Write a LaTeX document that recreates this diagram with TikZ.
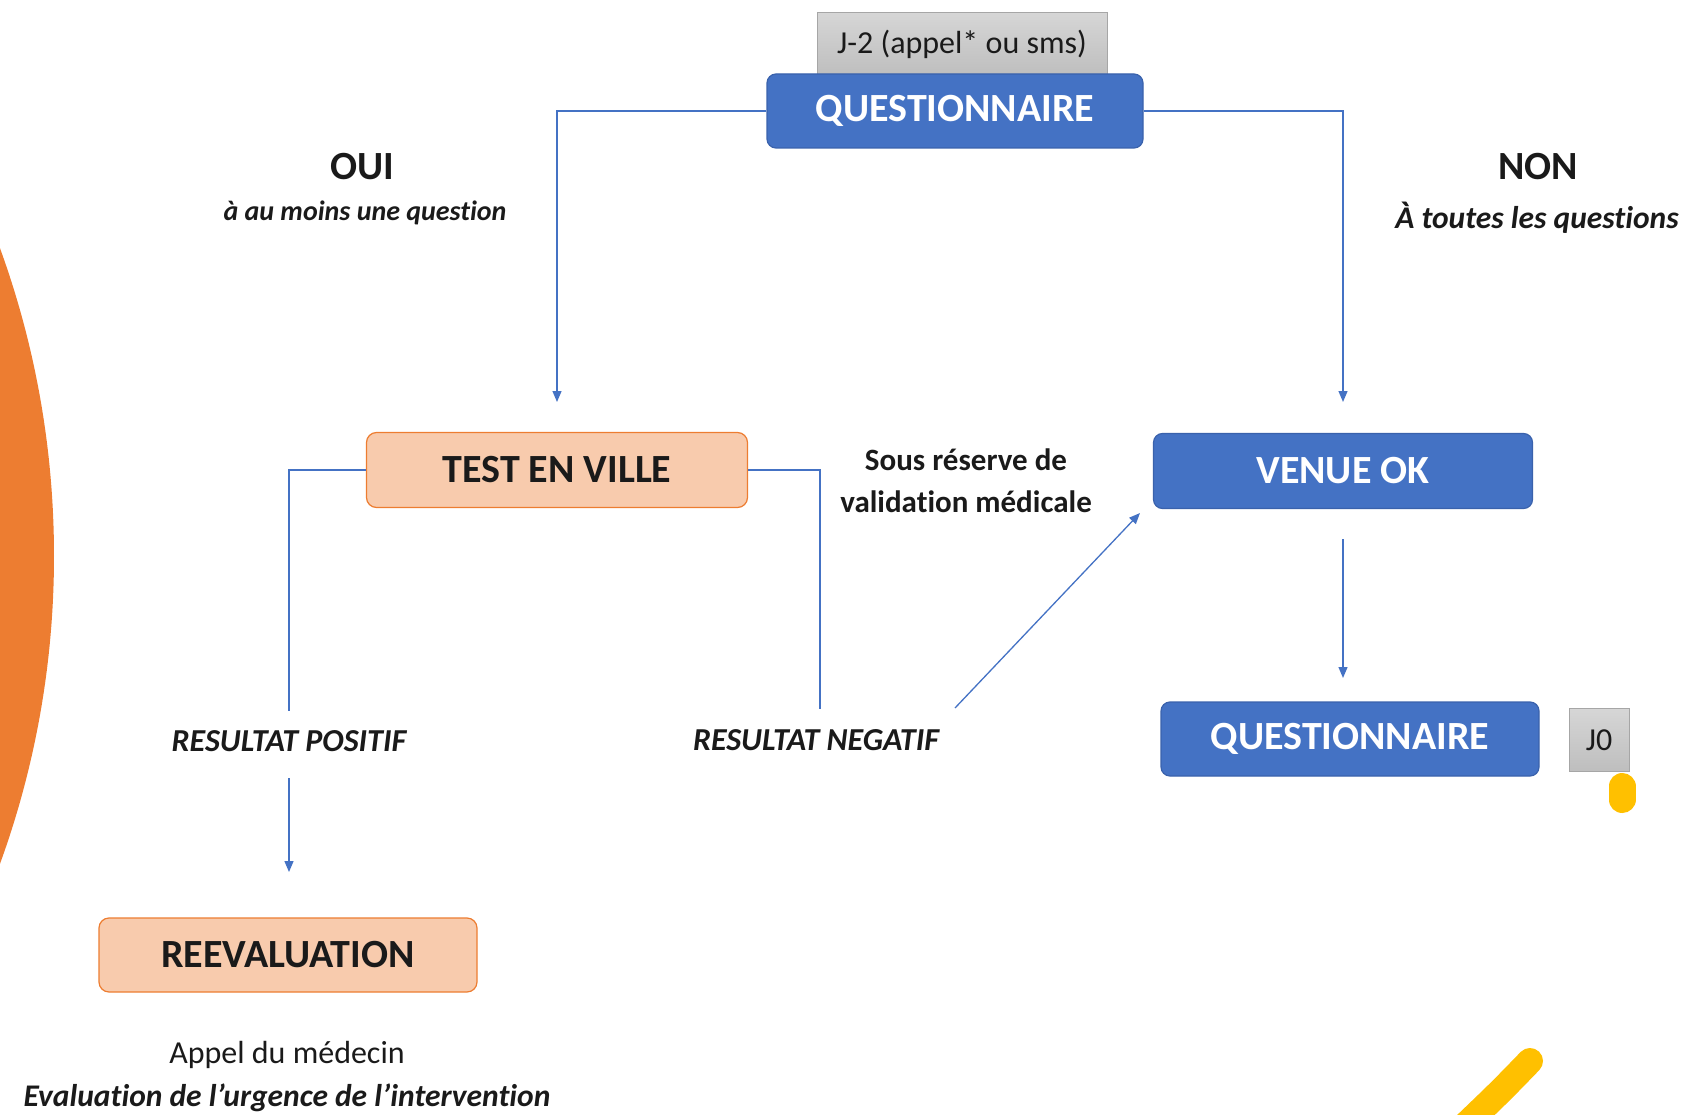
\documentclass[tikz,border=0pt]{standalone}
\usepackage{fontspec}
\setmainfont[Ligatures=NoCommon]{Carlito}
\usetikzlibrary{arrows.meta}
\definecolor{qblue}{HTML}{4472C4}
\definecolor{qblueb}{HTML}{3A62AC}
\definecolor{qorange}{HTML}{ED7D31}
\definecolor{qpeach}{HTML}{F8CBAD}
\definecolor{qgraytop}{HTML}{D6D6D6}
\definecolor{qgraybot}{HTML}{BEBEBE}
\definecolor{qgrayb}{HTML}{A6A6A6}
\definecolor{qyellow}{HTML}{FFC000}
\definecolor{qtext}{HTML}{1A1A1A}
\begin{document}
\begin{tikzpicture}[x=1pt,y=-1pt,
  bluebox/.style={draw=qblueb, fill=qblue, rounded corners=9pt, text=white,
    font=\fontsize{40}{48}\selectfont\bfseries, inner sep=0pt, line width=1.2pt},
  peachbox/.style={draw=qorange, fill=qpeach, rounded corners=10pt, text=qtext,
    font=\fontsize{40}{48}\selectfont\bfseries, inner sep=0pt, line width=1.2pt},
  graybox/.style={draw=qgrayb, top color=qgraytop, bottom color=qgraybot, text=qtext,
    font=\fontsize{32}{38}\selectfont, inner sep=0pt, line width=1pt},
  conn/.style={draw=qblue, line width=1.3pt},
  arr/.style={conn, -{Triangle[length=11pt,width=9pt]}},
  bigtitle/.style={font=\fontsize{40}{48}\selectfont\bfseries, text=qtext, inner sep=0pt},
  subtitle/.style={font=\fontsize{28}{34}\selectfont\bfseries\itshape, text=qtext, inner sep=0pt},
  reslabel/.style={font=\fontsize{32}{38}\selectfont\bfseries\itshape, text=qtext, inner sep=0pt},
  note/.style={font=\fontsize{31}{42}\selectfont\bfseries, text=qtext, inner sep=0pt},
]
\useasboundingbox (0,0) rectangle (1689,1115);
\begin{scope}
  \clip (0,0) rectangle (1689,1115);
  \fill[qorange] (-846pt,-556pt) circle (900pt);
  \draw[qyellow, line width=26pt, line cap=round] (1530,1061) .. controls (1500,1092) .. (1455,1135);
\end{scope}
\draw[qyellow, line width=27pt, line cap=round] (1622,786.5) -- (1622,799.5);

% nodes
\node[graybox, minimum width=290pt, minimum height=63pt] (j2) at (962,44) {J-2 (appel* ou sms)};
\node[bluebox, minimum width=376pt, minimum height=74pt] (q1) at (955,111) {QUESTIONNAIRE};
\node[peachbox, minimum width=381pt, minimum height=75pt] (tev) at (557,470) {TEST EN VILLE};
\node[bluebox, minimum width=379pt, minimum height=75pt] (vok) at (1343,471) {VENUE OK};
\node[bluebox, minimum width=378pt, minimum height=74pt] (q2) at (1350,739) {QUESTIONNAIRE};
\node[graybox, minimum width=60pt, minimum height=63pt] (j0) at (1599,740) {J0};
\node[peachbox, minimum width=378pt, minimum height=74pt] (reev) at (288,955) {REEVALUATION};

% labels
\node[bigtitle] (oui) at (362,167) {OUI};
\node[subtitle] (ouisub) at (365,213) {à au moins une question};
\node[bigtitle] (non) at (1538,167) {NON};
\node[subtitle, font=\fontsize{31.5}{38}\selectfont\bfseries\itshape] (nonsub) at (1537,218) {À toutes les questions};
\node[reslabel] (rpos) at (289,741) {RESULTAT POSITIF};
\node[reslabel] (rneg) at (816,740) {RESULTAT NEGATIF};
\node[note, align=center] (sous) at (966,481) {Sous réserve de\\validation médicale};
\node[font=\fontsize{32}{38}\selectfont, text=qtext, inner sep=0pt] (appel) at (287,1055) {Appel du médecin};
\node[font=\fontsize{31.5}{37}\selectfont\bfseries\itshape, text=qtext, inner sep=0pt] (evalu) at (287,1098) {Evaluation de l’urgence de l’intervention};

% connectors
\coordinate (ouiend) at (557,402);
\coordinate (nonend) at (1343,402);
\coordinate (posend) at (289,711);
\coordinate (negend) at (820,709);
\coordinate (pa) at (289,778);
\coordinate (pb) at (289,872);
\coordinate (da) at (955,708);
\coordinate (db) at (1140,513);
\coordinate (va) at (1343,539);
\coordinate (vb) at (1343,678);
\draw[arr] (q1.west) -| (ouiend);
\draw[arr] (q1.east) -| (nonend);
\draw[conn] (tev.west) -| (posend);
\draw[conn] (tev.east) -| (negend);
\draw[arr] (pa) -- (pb);
\draw[arr] (da) -- (db);
\draw[arr] (va) -- (vb);
\end{tikzpicture}
\end{document}
